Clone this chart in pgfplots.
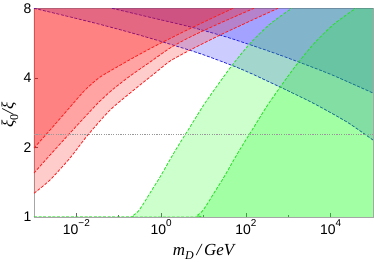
\documentclass[border=0pt]{standalone}
\usepackage{fontspec}
\setmainfont{Liberation Sans}
\newfontfamily\tnr{Liberation Serif}
\usepackage{pgfplots}
\pgfplotsset{compat=1.18}
\definecolor{rl}{RGB}{255,30,30}
\definecolor{bl}{RGB}{40,40,225}
\definecolor{gl}{RGB}{40,225,40}
\newcommand{\sub}[1]{\raisebox{-0.28em}{\fontsize{12}{12}\selectfont #1}}
\newcommand{\sups}[1]{\raisebox{0.55em}{\fontsize{10}{10}\selectfont #1}}
\begin{document}
\begin{tikzpicture}
\begin{axis}[
  name=ax,
  scale only axis, width=339bp, height=208.7bp,
  xmode=log, ymode=log, log basis y=2,
  xmin=1e-3, xmax=1e5, ymin=1, ymax=8,
  xtick={1e-2,1,1e2,1e4},
  xticklabels={10\sups{−2},10\sups{0},10\sups{2},10\sups{4}},
  minor xtick={1e-3,1e-1,1e1,1e3,1e5},
  ytick={1,2,4,8}, yticklabels={1,2,4,8},
  tick align=inside,
  xtick pos=bottom, ytick pos=left,
  axis line style={gray!70, line width=0.6pt},
  tick style={gray!80!black, line width=0.5pt},
  major tick length=4bp, minor tick length=2.5bp,
  ticklabel style={font=\fontsize{14}{16}\selectfont},
  xticklabel style={yshift=1bp},
  yticklabel style={xshift=1bp},
  xlabel={\tnr\itshape m\sub{D}\,/\,GeV},
  ylabel={\tnr\itshape ξ\sub{\upshape 0}/ξ},
  xlabel style={font=\fontsize{17}{19}\selectfont, at={(axis description cs:0.5,-0.183)}, anchor=base},
  ylabel style={font=\fontsize{17}{19}\selectfont, at={(axis description cs:-0.071,0.49)}, anchor=center},
  clip=true,
]
% blue fills
\addplot[smooth, tension=0.4, draw=none, fill=blue, fill opacity=0.2] coordinates {(1e-3,8) (7.079e-3,7.344) (0.03614,6.816) (0.1841,6.292) (0.9408,5.770) (8.268,5.095) (72.67,4.388) (542.8,3.705) (3838,3.112) (24350,2.576) (1e5,2.153)} -- (axis cs:1e5,8) -- cycle;
\addplot[smooth, tension=0.4, draw=none, fill=blue, fill opacity=0.2] coordinates {(0.06934,8) (0.547,7.315) (4.797,6.654) (42.21,5.945) (638.9,5.020) (9667,4.154) (1e5,3.438)} -- (axis cs:1e5,8) -- cycle;
% blue lines
\addplot[smooth, tension=0.4, bl, line width=0.8bp, dash pattern=on 3bp off 1.6bp] coordinates {(1e-3,8) (7.079e-3,7.344) (0.03614,6.816) (0.1841,6.292) (0.9408,5.770) (8.268,5.095) (72.67,4.388) (542.8,3.705) (3838,3.112) (24350,2.576) (1e5,2.153)};
\addplot[smooth, tension=0.4, bl, line width=0.8bp, dash pattern=on 3bp off 1.6bp] coordinates {(0.06934,8) (0.547,7.315) (4.797,6.654) (42.21,5.945) (638.9,5.020) (9667,4.154) (1e5,3.438)};
% green fills
\addplot[smooth, tension=0.4, draw=none, fill=green, fill opacity=0.2] coordinates {(1e-3,1) (0.1566,1) (0.2169,1.015) (0.2846,1.056) (0.3796,1.138) (0.5464,1.270) (0.9408,1.489) (2.126,1.930) (4.797,2.451) (10.85,3.112) (42.21,4.410) (125.0,5.629) (370.9,6.835) (1206,8)} -- (axis cs:1e5,8) -- (axis cs:1e5,1) -- cycle;
\addplot[smooth, tension=0.4, draw=none, fill=green, fill opacity=0.2] coordinates {(1e-3,1) (5.068,1) (7.019,1.015) (9.210,1.056) (12.28,1.138) (17.68,1.270) (30.44,1.489) (68.80,1.930) (155.2,2.451) (351.1,3.112) (1366,4.410) (4045,5.629) (12003,6.835) (39026,8)} -- (axis cs:1e5,8) -- (axis cs:1e5,1) -- cycle;
% red fills
\addplot[smooth, tension=0.4, draw=none, fill=red, fill opacity=0.2] coordinates {(1e-3,1.988) (2.388e-3,2.378) (7.079e-3,2.990) (0.016,3.542) (0.03614,4.031) (0.1259,4.611) (0.317,5.069) (1.032,5.684) (4.797,6.535) (15.89,7.256) (49.66,8)} -- (axis cs:1e-3,8) -- cycle;
\addplot[smooth, tension=0.4, draw=none, fill=red, fill opacity=0.2] coordinates {(1e-3,1.550) (2.388e-3,1.854) (7.079e-3,2.308) (0.03069,3.082) (0.06934,3.542) (0.1841,4.073) (0.547,4.682) (1.618,5.382) (4.797,6.004) (24.49,6.902) (155.6,8)} -- (axis cs:1e-3,8) -- cycle;
\addplot[smooth, tension=0.4, draw=none, fill=red, fill opacity=0.2] coordinates {(1e-3,1.266) (2.388e-3,1.446) (7.079e-3,1.800) (0.01782,2.241) (0.06223,2.902) (0.2415,3.578) (0.7161,4.196) (1.618,4.727) (4.797,5.275) (24.49,6.126) (125.0,7.042) (572.8,8)} -- (axis cs:1e-3,8) -- cycle;
% red lines
\addplot[smooth, tension=0.4, rl, line width=0.8bp, dash pattern=on 3bp off 1.6bp] coordinates {(1e-3,1.988) (2.388e-3,2.378) (7.079e-3,2.990) (0.016,3.542) (0.03614,4.031) (0.1259,4.611) (0.317,5.069) (1.032,5.684) (4.797,6.535) (15.89,7.256) (49.66,8)};
\addplot[smooth, tension=0.4, rl, line width=0.8bp, dash pattern=on 3bp off 1.6bp] coordinates {(1e-3,1.550) (2.388e-3,1.854) (7.079e-3,2.308) (0.03069,3.082) (0.06934,3.542) (0.1841,4.073) (0.547,4.682) (1.618,5.382) (4.797,6.004) (24.49,6.902) (155.6,8)};
\addplot[smooth, tension=0.4, rl, line width=0.8bp, dash pattern=on 3bp off 1.6bp] coordinates {(1e-3,1.266) (2.388e-3,1.446) (7.079e-3,1.800) (0.01782,2.241) (0.06223,2.902) (0.2415,3.578) (0.7161,4.196) (1.618,4.727) (4.797,5.275) (24.49,6.126) (125.0,7.042) (572.8,8)};
% green lines
\addplot[smooth, tension=0.4, gl, line width=0.8bp, dash pattern=on 3bp off 1.6bp] coordinates {(1e-3,1) (0.1566,1) (0.2169,1.015) (0.2846,1.056) (0.3796,1.138) (0.5464,1.270) (0.9408,1.489) (2.126,1.930) (4.797,2.451) (10.85,3.112) (42.21,4.410) (125.0,5.629) (370.9,6.835) (1206,8)};
\addplot[smooth, tension=0.4, gl, line width=0.8bp, dash pattern=on 3bp off 1.6bp] coordinates {(1e-3,1) (5.068,1) (7.019,1.015) (9.210,1.056) (12.28,1.138) (17.68,1.270) (30.44,1.489) (68.80,1.930) (155.2,2.451) (351.1,3.112) (1366,4.410) (4045,5.629) (12003,6.835) (39026,8)};
% dotted reference line
\addplot[gray!80, line width=0.8bp, dash pattern=on 1.2bp off 1.2bp] coordinates {(1e-3,2.27) (1e5,2.27)};
\end{axis}
\pgfresetboundingbox
\path (ax.south west) ++(-34bp,-45bp) rectangle ([shift={(1bp,8.3bp)}]ax.north east);
\end{tikzpicture}
\end{document}
